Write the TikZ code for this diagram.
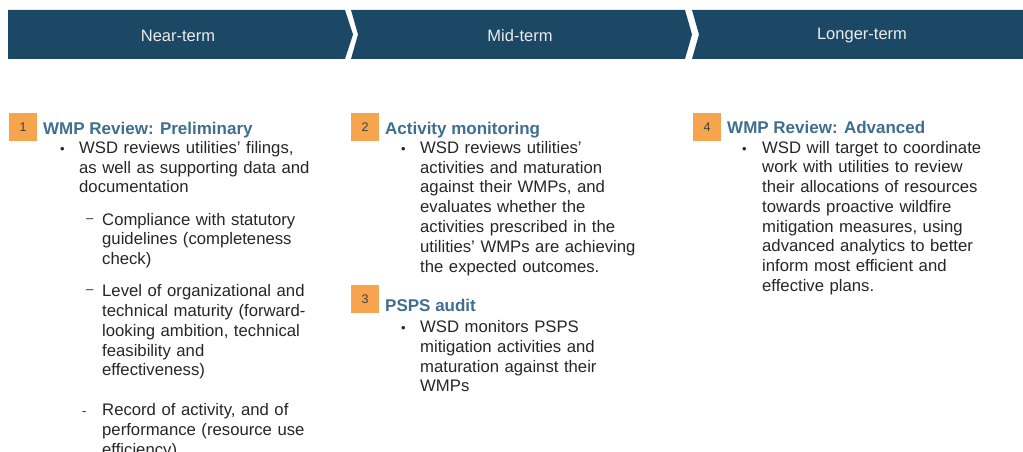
\documentclass[tikz,border=0pt]{standalone}
\usepackage{fontspec}
\setmainfont{Liberation Sans}

\definecolor{bannerblue}{HTML}{1B4864}
\definecolor{boxorange}{HTML}{F7A44E}
\definecolor{headblue}{HTML}{3F6E8E}
\definecolor{bodygray}{HTML}{262626}
\definecolor{numgray}{HTML}{404040}

\tikzset{
  phase/.style={fill=bannerblue},
  phaselabel/.style={text=white!92!black, font=\fontsize{16.5}{19}\selectfont},
  numbox/.style={fill=boxorange, anchor=north west, inner sep=0pt,
    minimum width=28pt, minimum height=28pt, text=numgray,
    font=\fontsize{12.5}{14}\selectfont},
  heading/.style={anchor=base west, inner sep=0pt, text=headblue,
    font=\fontsize{17}{19.8}\selectfont\bfseries},
  body/.style={anchor=base west, inner sep=0pt, text=bodygray, align=left,
    text width=270pt, font=\fontsize{16.7}{19.8}\selectfont},
  bulletmark/.style={anchor=base west, inner sep=0pt, text=bodygray,
    font=\fontsize{13}{15}\selectfont}
}

\begin{document}
\begin{tikzpicture}[x=1pt,y=-1pt]
    \useasboundingbox (0,0) rectangle (1023,452);
    \clip (0,0) rectangle (1023,452);

    % Draw the phase banner
    \fill[phase] (8,10) -- (345,10) -- (353,34.5) -- (345,59) -- (8,59) -- cycle;
    \fill[phase] (351,10) -- (685,10) -- (692,34.5) -- (685,59) -- (351,59) -- (358,34.5) -- cycle;
    \fill[phase] (692,10) -- (1023,10) -- (1023,59) -- (692,59) -- (699,34.5) -- cycle;
    \node[phaselabel] (near) at (178,35.5) {Near-term};
    \node[phaselabel] (mid) at (520,35.5) {Mid-term};
    \node[phaselabel] (longer) at (862,35.5) {Longer-term};

    % Near-term column
    \node[numbox] (box1) at (9,113) {1};
    \node[heading] (title1) at (43,134) {WMP Review: Preliminary};
    \node[bulletmark] (dot1) at (60,153.3) {\textbullet};
    \node[body] (text1) at (79,153.3) {WSD reviews utilities' filings,\\
      as well as supporting data and\\ documentation};
    \node[bulletmark] (dash1) at (86,222) {–};
    \node[body] (sub1) at (102,225) {Compliance with statutory\\
      guidelines (completeness\\ check)};
    \node[bulletmark] (dash2) at (86,293.5) {–};
    \node[body] (sub2) at (102,296.7) {Level of organizational and\\
      technical maturity (forward-\\ looking ambition, technical\\
      feasibility and\\ effectiveness)};
    \node[bulletmark] (dash3) at (82,415.7) {-};
    \node[body] (sub3) at (102,415.7) {Record of activity, and of\\
      performance (resource use\\ efficiency)};

    % Mid-term column
    \node[numbox] (box2) at (351,113) {2};
    \node[heading] (title2) at (385,134) {Activity monitoring};
    \node[bulletmark] (dot2) at (401,153.3) {\textbullet};
    \node[body] (text2) at (420,153.3) {WSD reviews utilities'\\
      activities and maturation\\ against their WMPs, and\\
      evaluates whether the\\ activities prescribed in the\\
      utilities' WMPs are achieving\\ the expected outcomes.};
    \node[numbox] (box3) at (351,285) {3};
    \node[heading] (title3) at (385,311.7) {PSPS audit};
    \node[bulletmark] (dot3) at (401,332.5) {\textbullet};
    \node[body] (text3) at (420,332.5) {WSD monitors PSPS\\
      mitigation activities and\\ maturation against their\\ WMPs};

    % Longer-term column
    \node[numbox] (box4) at (693,113) {4};
    \node[heading] (title4) at (727,133) {WMP Review: Advanced};
    \node[bulletmark] (dot4) at (742,153) {\textbullet};
    \node[body] (text4) at (762,153) {WSD will target to coordinate\\
      work with utilities to review\\ their allocations of resources\\
      towards proactive wildfire\\ mitigation measures, using\\
      advanced analytics to better\\ inform most efficient and\\
      effective plans.};
\end{tikzpicture}
\end{document}
